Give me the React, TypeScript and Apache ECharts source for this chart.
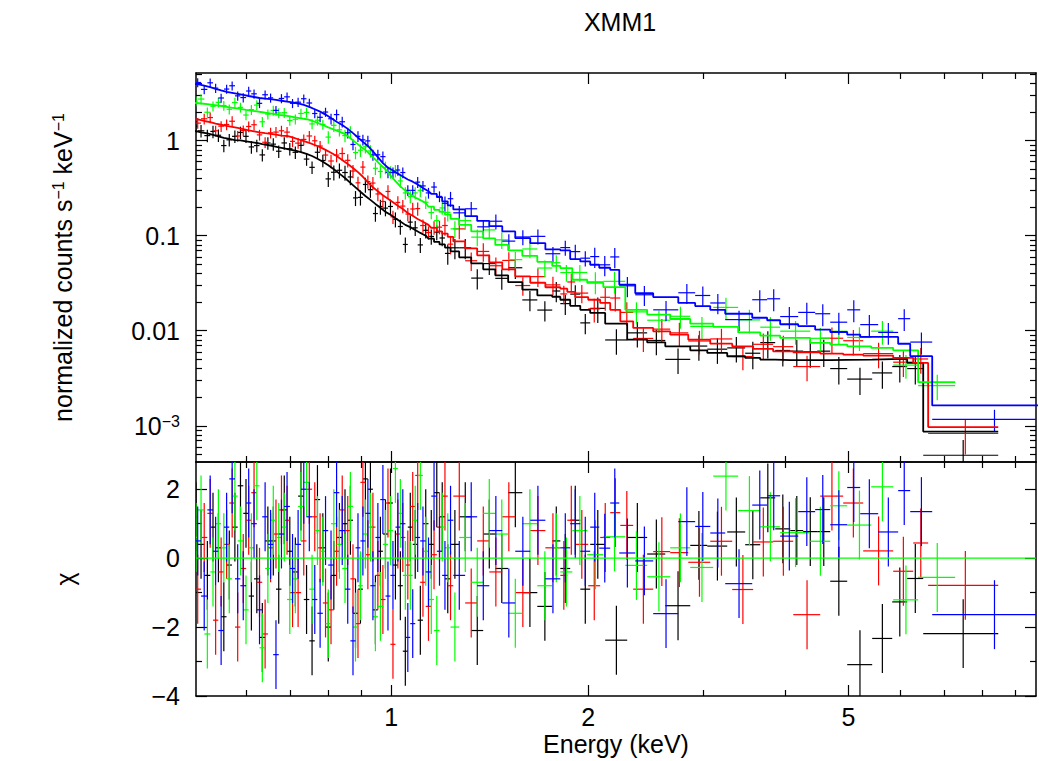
import React, { useEffect, useRef } from "react";
import * as echarts from "echarts";

const FONT = '"Liberation Sans", Arial, Helvetica, sans-serif';
const FS = 25;

// ---- axis ranges ----
const energyMin = 0.503;
const energyMax = 9.67;
const countsMin = 4.16e-4;
const countsMax = 5.15;
const chiMin = -4;
const chiMax = 2.79;

// ---- ticks ----
const energyMajorTicks = [1, 2, 5];
const energyMinorTicks = [0.6, 0.7, 0.8, 0.9, 3, 4, 6, 7, 8, 9];
const countsMajorTicks = [0.001, 0.01, 0.1, 1];
const countsMajorLabels = ["{n|10}{s|\u22123}", "0.01", "0.1", "1"];
const countsMinorMultipliers = [2, 3, 4, 5, 6, 7, 8, 9];
const countsDecades = [0.0001, 0.001, 0.01, 0.1, 1];
const chiMajorTicks = [-4, -2, 0, 2];
const chiMajorLabels = ["\u22124", "\u22122", "0", "2"];
const chiMinorTicks = [-3, -1, 1];

// model drawn as a smooth curve below this energy (keV), as a histogram above
const smoothModelBelow = 1.15;

// ---- relative 1-sigma errors per energy band (keV) ----
const errBandEdges = [0.8, 1.2, 2.0, 3.5, 6.5];
const blackRelErr = [0.15, 0.18, 0.24, 0.3, 0.32, 0.45];
const redRelErr = [0.13, 0.16, 0.22, 0.28, 0.3, 0.4];
const greenRelErr = [0.12, 0.15, 0.2, 0.26, 0.28, 0.3];
const blueRelErr = [0.11, 0.13, 0.18, 0.24, 0.26, 0.26];

// ---- bin edges (keV) ----
const lowEdgesA = [0.5, 0.512, 0.5235, 0.534, 0.544, 0.555, 0.5655, 0.577, 0.588, 0.6, 0.611, 0.623, 0.635, 0.648, 0.66, 0.673, 0.686, 0.7, 0.713, 0.728, 0.742, 0.757, 0.771, 0.786, 0.801, 0.817, 0.833, 0.85, 0.866, 0.882, 0.897, 0.913, 0.929, 0.946, 0.962, 0.98, 0.997, 1.015, 1.032, 1.051, 1.069, 1.088, 1.107, 1.129, 1.151, 1.174, 1.196, 1.22, 1.244, 1.297, 1.353, 1.412, 1.478, 1.547, 1.631, 1.72, 1.813];
const lowEdgesB = [0.5, 0.506, 0.518, 0.529, 0.539, 0.5495, 0.56, 0.571, 0.5825, 0.594, 0.6055, 0.617, 0.629, 0.6415, 0.654, 0.6665, 0.6795, 0.693, 0.7065, 0.7205, 0.735, 0.7495, 0.764, 0.7785, 0.7935, 0.809, 0.825, 0.8415, 0.858, 0.874, 0.8895, 0.905, 0.921, 0.9375, 0.954, 0.971, 0.9885, 1.006, 1.0235, 1.0415, 1.06, 1.0785, 1.0975, 1.118, 1.14, 1.1625, 1.185, 1.208, 1.232, 1.27, 1.325, 1.382, 1.442, 1.509, 1.586, 1.672, 1.762];
const blueHighEdges = [1.877, 1.945, 2.014, 2.079, 2.161, 2.231, 2.36, 2.514, 2.746, 2.914, 3.073, 3.239, 3.562, 3.754, 3.93, 4.188, 4.445, 4.687, 4.976, 5.209, 5.549, 5.953, 6.211, 6.711, 10.0];
const redHighEdges = [1.858, 1.911, 2.0, 2.086, 2.161, 2.239, 2.343, 2.514, 2.669, 2.844, 3.073, 3.32, 3.574, 3.834, 4.115, 4.525, 4.906, 5.264, 5.85, 6.277, 6.616, 8.466];
const greenHighEdges = [1.813, 1.891, 1.993, 2.109, 2.279, 2.461, 2.669, 2.864, 3.105, 3.39, 3.664, 3.93, 4.368, 4.687, 4.976, 5.414, 5.85, 6.387, 7.276];
const blackHighEdges = [1.813, 1.877, 1.945, 2.014, 2.123, 2.294, 2.461, 2.623, 2.864, 3.041, 3.262, 3.475, 3.664, 3.862, 4.072, 4.262, 4.477, 4.687, 4.976, 5.433, 5.83, 6.145, 6.502, 8.466];

// ---- black spectrum ----
const blackModelLow = [1.26, 1.22, 1.19, 1.15, 1.11, 1.07, 1.045, 1.015, 1.005, 0.985, 0.965, 0.945, 0.92, 0.9, 0.875, 0.85, 0.83, 0.806, 0.785, 0.757, 0.727, 0.69, 0.645, 0.6, 0.55, 0.5, 0.45, 0.405, 0.36, 0.322, 0.29, 0.262, 0.238, 0.216, 0.197, 0.178, 0.166, 0.153, 0.141, 0.13, 0.123, 0.115, 0.107, 0.1, 0.093, 0.086, 0.081, 0.075, 0.0684, 0.0592, 0.0512, 0.0443, 0.0383, 0.0324, 0.0271, 0.0236];
const blackModelHigh = [0.0228, 0.0212, 0.0183, 0.0166, 0.0154, 0.0119, 0.00806, 0.00755, 0.00686, 0.00623, 0.00585, 0.00539, 0.00518, 0.00497, 0.00492, 0.0049, 0.0049, 0.00492, 0.00494, 0.00497, 0.00502, 0.00506, 0.00459, 0.00087];
const blackDataLow = [1.41, 1.27, 1.13, 1.25, 1.14, 0.888, 1.02, 1.11, 1.22, 1.11, 0.859, 0.888, 0.708, 0.945, 0.919, 0.774, 0.946, 0.822, 0.754, 0.893, 0.64, 0.524, 0.755, 0.618, 0.396, 0.465, 0.488, 0.462, 0.415, 0.25, 0.253, 0.346, 0.305, 0.171, 0.203, 0.195, 0.203, 0.149, 0.125, 0.0809, 0.139, 0.121, 0.08, 0.114, 0.0982, 0.109, 0.0946, 0.0651, 0.0746, 0.0746, 0.0358, 0.0509, 0.0356, 0.046, 0.0211, 0.0165];
const blackDataHigh = [0.0262, 0.0193, 0.0243, 0.0121, 0.0172, 0.008, 0.0095, 0.0079, 0.005, 0.0069, 0.0064, 0.0066, 0.0058, 0.0075, 0.0062, 0.0061, 0.006, 0.0061, 0.004, 0.0031, 0.0036, 0.0042, 0.004, 0.00049];
const blackChiLow = [1.2, 0.4, -0.5, 0.9, 0.3, -1.7, -0.2, 0.9, 2.1, 1.3, -1.1, -0.6, -2.3, 0.5, 0.5, -0.9, 1.4, 0.2, -0.4, 1.8, -1.2, -2.4, 1.7, 0.3, -2.0, -0.5, 0.6, 1.0, 1.1, -1.6, -0.9, 2.3, 2.0, -1.5, 0.2, 0.7, 1.6, -0.2, -0.8, -2.7, 0.9, 0.4, -1.8, 1.0, 0.4, 1.9, 1.2, -0.6, 0.4, 1.2, -2.1, 0.7, -0.3, 1.9, -1.0, -1.4];
const blackChiHigh = [0.5, -0.3, 1.1, -0.9, 0.4, -2.38, 0.6, 0.12, -1.38, 0.37, 0.35, 0.76, 0.39, 1.75, 0.85, 0.8, 0.77, 0.77, -0.67, -3.09, -2.33, -1.27, -0.59, -2.19];

// ---- red spectrum ----
const redModelLow = [1.67, 1.61, 1.565, 1.515, 1.47, 1.43, 1.4, 1.36, 1.32, 1.28, 1.255, 1.225, 1.2, 1.18, 1.155, 1.13, 1.12, 1.08, 1.035, 0.99, 0.947, 0.9, 0.855, 0.8, 0.745, 0.688, 0.627, 0.567, 0.516, 0.466, 0.417, 0.367, 0.323, 0.293, 0.267, 0.245, 0.225, 0.207, 0.191, 0.173, 0.162, 0.15, 0.14, 0.13, 0.121, 0.111, 0.105, 0.097, 0.0871, 0.0736, 0.0621, 0.0525, 0.0443, 0.0374, 0.032, 0.0287];
const redModelHigh = [0.0277, 0.0257, 0.0226, 0.0212, 0.0196, 0.0166, 0.01256, 0.0107, 0.00986, 0.0091, 0.00806, 0.00732, 0.00686, 0.00644, 0.00608, 0.00593, 0.00575, 0.00561, 0.00548, 0.00519, 0.00459, 0.00097];
const redDataLow = [1.53, 1.7, 1.75, 1.27, 1.42, 1.48, 1.6, 1.12, 1.28, 1.41, 1.47, 1.15, 0.962, 1.21, 1.23, 1.27, 1.23, 0.983, 0.942, 1.03, 1.12, 0.997, 0.878, 0.706, 0.611, 0.705, 0.732, 0.621, 0.479, 0.36, 0.527, 0.371, 0.358, 0.275, 0.229, 0.292, 0.158, 0.224, 0.205, 0.169, 0.191, 0.193, 0.128, 0.108, 0.122, 0.123, 0.128, 0.0815, 0.118, 0.0545, 0.0683, 0.0483, 0.0549, 0.0299, 0.0371, 0.0304];
const redDataHigh = [0.0244, 0.0326, 0.0249, 0.017, 0.0225, 0.0221, 0.0156, 0.0083, 0.0104, 0.0095, 0.0078, 0.0082, 0.00535, 0.0072, 0.0068, 0.0042, 0.00834, 0.00785, 0.00575, 0.00467, 0.00505, 0.00083];
const redChiLow = [-0.9, 0.6, 1.3, -1.8, -0.4, 0.4, 1.6, -2.0, -0.3, 1.1, 1.9, -0.7, -2.2, 0.3, 0.7, 1.4, 1.1, -1.0, -1.0, 0.5, 2.0, 1.2, 0.3, -1.3, -1.5, 0.2, 1.4, 0.8, -0.6, -1.9, 2.2, 0.1, 0.9, -0.5, -1.2, 1.6, -2.5, 0.7, 0.6, -0.2, 1.5, 2.4, -0.7, -1.4, 0.1, 0.9, 1.8, -0.8, 1.8, -1.3, 0.5, -0.4, 1.2, -1.0, 0.8, 0.3];
const redChiHigh = [-0.5, 1.1, 0.4, -0.8, 0.6, 1.32, 0.95, -0.9, 0.19, 0.16, -0.12, 0.49, -0.91, 0.47, 0.49, -1.64, 1.8, 1.6, 0.21, -0.38, 0.44, -0.79];

// ---- green spectrum ----
const greenModelLow = [2.49, 2.46, 2.42, 2.38, 2.34, 2.29, 2.245, 2.2, 2.155, 2.11, 2.07, 2.03, 1.99, 1.95, 1.91, 1.87, 1.84, 1.8, 1.76, 1.72, 1.68, 1.62, 1.54, 1.46, 1.38, 1.31, 1.245, 1.17, 1.06, 0.96, 0.87, 0.8, 0.71, 0.63, 0.56, 0.5, 0.43, 0.375, 0.33, 0.298, 0.273, 0.252, 0.237, 0.22, 0.202, 0.187, 0.178, 0.167, 0.15, 0.13, 0.111, 0.0937, 0.08, 0.0701, 0.0614, 0.0531];
const greenModelHigh = [0.0482, 0.0456, 0.0344, 0.032, 0.0288, 0.0166, 0.0148, 0.0133, 0.0119, 0.011, 0.0096, 0.0089, 0.0084, 0.00744, 0.00715, 0.00686, 0.0066, 0.00622, 0.00288];
const greenDataLow = [2.61, 2.74, 1.99, 2.3, 2.53, 2.34, 2.14, 2.52, 2.24, 1.86, 2.12, 2.37, 1.58, 1.9, 2.08, 1.96, 1.97, 1.63, 1.68, 1.93, 1.98, 1.5, 1.64, 1.48, 1.09, 1.45, 1.3, 1.13, 1.23, 0.749, 0.793, 0.862, 0.78, 0.512, 0.474, 0.522, 0.468, 0.482, 0.377, 0.282, 0.258, 0.282, 0.3, 0.225, 0.175, 0.144, 0.196, 0.176, 0.118, 0.144, 0.0966, 0.115, 0.0904, 0.056, 0.0725, 0.0457];
const greenDataHigh = [0.052, 0.041, 0.041, 0.0327, 0.0331, 0.0158, 0.0129, 0.0142, 0.0111, 0.0176, 0.013, 0.0109, 0.0099, 0.00833, 0.00987, 0.0085, 0.0099, 0.00435, 0.00265];
const greenChiLow = [0.6, 1.4, -2.2, -0.4, 1.0, 0.3, -0.6, 1.8, 0.5, -1.5, 0.3, 2.1, -2.6, -0.3, 1.1, 0.6, 0.9, -1.2, -0.6, 1.5, 2.2, -0.9, 0.8, 0.2, -1.9, 1.0, 0.4, -0.3, 1.5, -2.0, -0.8, 0.7, 0.9, -1.7, -1.4, 0.4, 0.8, 2.6, 1.3, -0.5, -0.5, 1.1, 2.4, 0.2, -1.2, -2.1, 0.9, 0.3, -2.0, 0.6, -0.7, 1.3, 0.7, -1.6, 1.0, -0.8];
const greenChiHigh = [0.3, -0.4, 0.8, 0.1, 0.62, -0.21, -0.54, 0.3, -0.27, 2.38, 1.38, 0.91, 0.74, 0.49, 1.52, 0.96, 2.07, -1.21, -0.56];

// ---- blue spectrum ----
const blueModelLow = [3.93, 3.79, 3.65, 3.51, 3.38, 3.26, 3.19, 3.11, 3.03, 2.95, 2.88, 2.81, 2.77, 2.73, 2.68, 2.63, 2.58, 2.53, 2.46, 2.38, 2.27, 2.14, 2.02, 1.88, 1.73, 1.58, 1.46, 1.33, 1.2, 1.08, 0.97, 0.88, 0.77, 0.67, 0.58, 0.52, 0.485, 0.45, 0.42, 0.39, 0.37, 0.345, 0.318, 0.294, 0.275, 0.254, 0.23, 0.208, 0.189, 0.161, 0.143, 0.126, 0.111, 0.0942, 0.0834, 0.0718];
const blueModelHigh = [0.07, 0.0568, 0.0536, 0.0495, 0.046, 0.0438, 0.0306, 0.0248, 0.0226, 0.0196, 0.0182, 0.0166, 0.0151, 0.0137, 0.0129, 0.0117, 0.0112, 0.0103, 0.0097, 0.0091, 0.0086, 0.0086, 0.0073, 0.0054, 0.00164];
const blueDataLow = [4.09, 3.46, 4.06, 3.57, 2.81, 3.49, 3.78, 2.96, 2.84, 3.33, 3.11, 2.47, 3.04, 2.82, 2.08, 2.78, 2.89, 2.47, 2.54, 2.76, 2.49, 1.93, 1.76, 2.0, 1.7, 1.88, 1.58, 1.21, 0.912, 1.11, 1.02, 0.994, 0.708, 0.71, 0.679, 0.463, 0.461, 0.491, 0.462, 0.3, 0.3, 0.366, 0.334, 0.282, 0.325, 0.259, 0.219, 0.245, 0.174, 0.192, 0.124, 0.142, 0.0877, 0.097, 0.0984, 0.0646];
const blueDataHigh = [0.075, 0.068, 0.058, 0.0603, 0.0494, 0.0598, 0.0297, 0.0239, 0.0166, 0.0251, 0.0235, 0.0196, 0.0131, 0.0212, 0.0217, 0.0141, 0.0156, 0.0151, 0.0123, 0.0166, 0.0116, 0.0096, 0.0134, 0.0076, 0.00117];
const blueChiLow = [0.5, -1.1, 1.4, 0.2, -2.1, 0.9, 2.3, -0.6, -0.8, 1.6, 1.0, -1.5, 1.2, 0.4, -2.8, 0.7, 1.5, -0.3, 0.4, 2.0, 1.2, -1.2, -1.6, 0.8, -0.2, 1.9, 0.8, -0.9, -2.4, 0.3, 0.5, 1.3, -0.8, 0.6, 1.7, -1.1, -0.5, 0.9, 1.0, -2.3, -1.9, 0.6, 0.5, -0.4, 1.8, 0.2, -0.5, 1.1, -0.5, 1.2, -0.8, 0.8, -1.3, 0.2, 1.1, -0.6];
const blueChiHigh = [0.3, 1.0, 0.2, 0.9, 0.29, 1.6, 0.15, -0.08, -1.61, 1.06, 0.92, 0.73, -0.74, 1.54, 1.81, 0.64, 1.35, 1.41, 0.97, 2.05, 1.29, 0.76, 1.96, 1.35, -1.64];

const spectra = [
  { name: "black", color: "#000000", edges: [...lowEdgesB, ...blackHighEdges], model: [...blackModelLow, ...blackModelHigh], data: [...blackDataLow, ...blackDataHigh], chi: [...blackChiLow, ...blackChiHigh], relErr: blackRelErr },
  { name: "red", color: "#ff0000", edges: [...lowEdgesA, ...redHighEdges], model: [...redModelLow, ...redModelHigh], data: [...redDataLow, ...redDataHigh], chi: [...redChiLow, ...redChiHigh], relErr: redRelErr },
  { name: "green", color: "#00ff00", edges: [...lowEdgesB, ...greenHighEdges], model: [...greenModelLow, ...greenModelHigh], data: [...greenDataLow, ...greenDataHigh], chi: [...greenChiLow, ...greenChiHigh], relErr: greenRelErr },
  { name: "blue", color: "#0000ff", edges: [...lowEdgesA, ...blueHighEdges], model: [...blueModelLow, ...blueModelHigh], data: [...blueDataLow, ...blueDataHigh], chi: [...blueChiLow, ...blueChiHigh], relErr: blueRelErr },
];

const L = (v: number) => Math.log10(v);

function bandIndex(e: number) {
  let i = 0;
  while (i < errBandEdges.length && e >= errBandEdges[i]) i++;
  return i;
}

function buildSpectrum(s: any) {
  const upper: number[][] = [];
  const lower: number[][] = [];
  const model: number[][] = [];
  const yFloor = L(countsMin) - 1;
  const n = Math.min(s.data.length, s.model.length, s.chi.length, s.edges.length - 1);
  for (let i = 0; i < n; i++) {
    const lo = s.edges[i];
    const hi = s.edges[i + 1];
    const c = (lo + hi) / 2;
    const v = s.data[i];
    const sig = v * s.relErr[bandIndex(c)];
    const bot = v - sig;
    upper.push([L(lo), L(hi), L(c), L(v), L(v + sig), bot > 0 ? L(bot) : yFloor]);
    lower.push([L(lo), L(hi), L(c), s.chi[i], s.chi[i] + 1, s.chi[i] - 1]);
    const m = L(s.model[i]);
    if (c < smoothModelBelow) {
      if (i === 0) model.push([L(lo), m]);
      model.push([L(c), m]);
    } else {
      model.push([L(lo), m]);
      model.push([L(hi), m]);
    }
  }
  return { upper, lower, model };
}

function crossRenderer(color: string) {
  return (_params: any, api: any) => {
    const a = api.coord([api.value(0), api.value(3)]);
    const b = api.coord([api.value(1), api.value(3)]);
    const t = api.coord([api.value(2), api.value(4)]);
    const d = api.coord([api.value(2), api.value(5)]);
    return {
      type: "group",
      children: [
        { type: "line", shape: { x1: a[0], y1: a[1], x2: b[0], y2: b[1] }, style: { stroke: color, lineWidth: 1.2 } },
        { type: "line", shape: { x1: t[0], y1: t[1], x2: d[0], y2: d[1] }, style: { stroke: color, lineWidth: 1.2 } },
      ],
    };
  };
}

const tickLine = { color: "#000", width: 1.2 };
const axisLineStyle = { show: true, onZero: false, lineStyle: { color: "#000", width: 1.5 } };

function makeXAxes(gridIndex: number, withLabels: boolean) {
  const majors = energyMajorTicks.map(L);
  const minors = energyMinorTicks.map(L);
  const base = {
    type: "value",
    gridIndex,
    min: L(energyMin),
    max: L(energyMax),
    splitLine: { show: false },
    axisLabel: { show: false },
    axisLine: { show: false, onZero: false },
  };
  const axes: any[] = [];
  for (const pos of ["bottom", "top"]) {
    const major: any = {
      ...base,
      position: pos,
      axisLine: axisLineStyle,
      axisTick: { show: true, inside: true, length: 11, customValues: majors, lineStyle: tickLine },
    };
    if (pos === "bottom" && withLabels) {
      major.axisLabel = {
        show: true,
        customValues: majors,
        formatter: (v: number) => String(Math.round(Math.pow(10, v))),
        fontSize: FS,
        fontFamily: FONT,
        color: "#000",
        margin: 8,
      };
      major.name = "Energy (keV)";
      major.nameLocation = "middle";
      major.nameGap = 35;
      major.nameTextStyle = { fontSize: FS, fontFamily: FONT, color: "#000" };
    }
    axes.push(major);
    axes.push({
      ...base,
      position: pos,
      axisTick: { show: true, inside: true, length: 6, customValues: minors, lineStyle: tickLine },
    });
  }
  return axes;
}

function makeYAxes(gridIndex: number, min: number, max: number, majors: number[], labels: string[], minors: number[], name: string, nameGap: number) {
  const base = {
    type: "value",
    gridIndex,
    min,
    max,
    splitLine: { show: false },
    axisLabel: { show: false },
    axisLine: { show: false, onZero: false },
  };
  const axes: any[] = [];
  for (const pos of ["left", "right"]) {
    const major: any = {
      ...base,
      position: pos,
      axisLine: axisLineStyle,
      axisTick: { show: true, inside: true, length: 11, customValues: majors, lineStyle: tickLine },
    };
    if (pos === "left") {
      major.axisLabel = {
        show: true,
        customValues: majors,
        formatter: (v: number) => {
          const i = majors.findIndex((m) => Math.abs(m - v) < 1e-6);
          return i >= 0 ? labels[i] : "";
        },
        fontSize: FS,
        fontFamily: FONT,
        color: "#000",
        margin: 16,
        rich: {
          n: { fontSize: FS, fontFamily: FONT, color: "#000" },
          s: { fontSize: 16, fontFamily: FONT, color: "#000", verticalAlign: "top" },
        },
      };
      major.name = name;
      major.nameLocation = "middle";
      major.nameGap = nameGap;
      major.nameTextStyle = {
        fontSize: FS,
        fontFamily: FONT,
        color: "#000",
        rich: {
          a: { fontSize: FS, fontFamily: FONT, color: "#000" },
          s: { fontSize: 16, fontFamily: FONT, color: "#000", verticalAlign: "top" },
        },
      };
    }
    axes.push(major);
    axes.push({
      ...base,
      position: pos,
      axisTick: { show: true, inside: true, length: 6, customValues: minors, lineStyle: tickLine },
    });
  }
  return axes;
}

export default function App() {
  const ref = useRef<HTMLDivElement>(null);

  useEffect(() => {
    if (!ref.current) return;
    const chart = echarts.init(ref.current, undefined, { renderer: "svg" });

    const countsMinor: number[] = [];
    for (const d of countsDecades) {
      for (const m of countsMinorMultipliers) {
        const v = d * m;
        if (v > countsMin && v < countsMax) countsMinor.push(L(v));
      }
    }

    const series: any[] = [];
    for (const s of spectra) {
      const b = buildSpectrum(s);
      series.push({
        type: "line",
        name: s.name + " model",
        xAxisIndex: 0,
        yAxisIndex: 0,
        data: b.model,
        showSymbol: false,
        symbol: "none",
        clip: true,
        lineStyle: { color: s.color, width: 1.8 },
        silent: true,
      });
      series.push({
        type: "custom",
        name: s.name + " data",
        xAxisIndex: 0,
        yAxisIndex: 0,
        data: b.upper,
        clip: true,
        renderItem: crossRenderer(s.color),
        encode: { x: [0, 1], y: [3, 4, 5] },
        silent: true,
      });
      series.push({
        type: "custom",
        name: s.name + " chi",
        xAxisIndex: 4,
        yAxisIndex: 4,
        data: b.lower,
        clip: true,
        renderItem: crossRenderer(s.color),
        encode: { x: [0, 1], y: [3, 4, 5] },
        silent: true,
      });
    }
    series.push({
      type: "line",
      name: "zero",
      xAxisIndex: 4,
      yAxisIndex: 4,
      data: [
        [L(energyMin), 0],
        [L(energyMax), 0],
      ],
      showSymbol: false,
      symbol: "none",
      lineStyle: { color: "#00ff00", width: 1.3 },
      silent: true,
    });

    chart.setOption({
      animation: false,
      backgroundColor: "#ffffff",
      title: {
        text: "XMM1",
        left: 615,
        top: 4,
        textAlign: "center",
        textStyle: { fontSize: FS, fontWeight: "normal", fontFamily: FONT, color: "#000" },
      },
      grid: [
        { left: 196, top: 73, width: 840, height: 389 },
        { left: 196, top: 462, width: 840, height: 234 },
      ],
      xAxis: [...makeXAxes(0, false), ...makeXAxes(1, true)],
      yAxis: [
        ...makeYAxes(0, L(countsMin), L(countsMax), countsMajorTicks.map(L), countsMajorLabels, countsMinor, "{a|normalized counts s}{s|\u22121}{a| keV}{s|\u22121}", 121),
        ...makeYAxes(1, chiMin, chiMax, chiMajorTicks, chiMajorLabels, chiMinorTicks, "\u03c7", 119),
      ],
      series,
    });

    return () => chart.dispose();
  }, []);

  return (
    <div
      ref={ref}
      style={{ position: "fixed", left: 0, top: 0, width: 1039, height: 761, background: "#fff" }}
    />
  );
}
